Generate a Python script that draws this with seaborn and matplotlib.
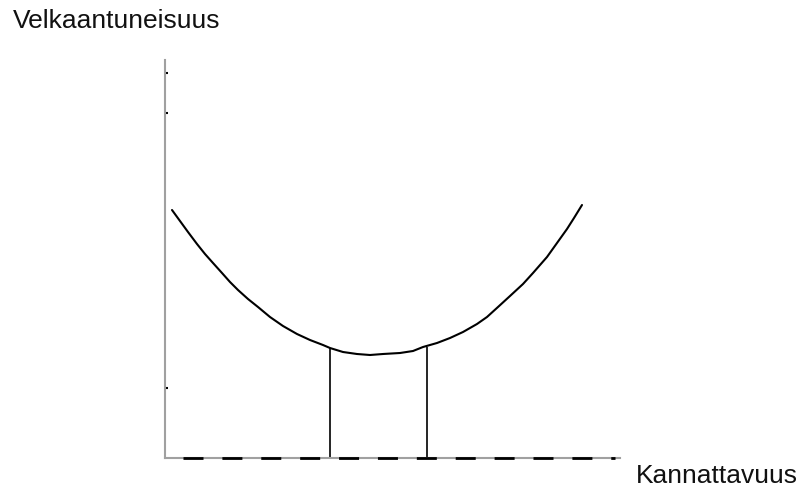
import matplotlib
matplotlib.use("Agg")
import matplotlib.pyplot as plt
import seaborn as sns
import pandas as pd

# curve (x: kannattavuus, y: velkaantuneisuus)
curve_x = [7, 15, 23, 32, 40, 48, 57, 65, 73, 83, 93, 105, 118, 132, 145, 158, 165, 178, 192,
           205, 218, 235, 248, 258, 272, 285, 298, 312, 322, 333, 345, 358, 368, 382, 392, 402,
           409, 417]
curve_y = [248, 237, 226, 214, 204, 195, 185, 176, 168, 159, 151, 141, 132, 124, 118, 113, 110,
           106, 104, 103, 104, 105, 107, 111, 115, 120, 126, 134, 141, 151, 162, 174, 185, 201,
           215, 229, 240, 253]

# the two vertical markers under the curve
marker_x = [165, 262]
marker_top = [110, 111]

# dashed baseline
base_x = [18, 450]
base_y = [0, 0]

# small ticks on the y axis
ytick_pos = [70, 345, 385]

sns.set_theme(style="white")
plt.rcParams["font.family"] = ["Liberation Sans", "DejaVu Sans"]

fig = plt.figure(figsize=(8.02, 4.88), dpi=100)
ax = fig.add_axes([165 / 802, 1 - 458 / 488, 455 / 802, 398 / 488])

df = pd.DataFrame({"x": curve_x, "y": curve_y})
sns.lineplot(data=df, x="x", y="y", color="black", linewidth=1.5, ax=ax,
             solid_joinstyle="round", solid_capstyle="round")

ax.vlines(marker_x, 0, marker_top, color="black", linewidth=1.2)
ax.plot(base_x, base_y, color="black", linewidth=2, linestyle=(0, (7.2, 6.8)),
        zorder=5, clip_on=False)

ax.set_xlim(0, 455)
ax.set_ylim(0, 398)
ax.set_xlabel("")
ax.set_ylabel("")
ax.set_xticks([])
ax.set_yticks(ytick_pos)
ax.set_yticklabels([])
ax.tick_params(axis="y", direction="in", length=2, width=1.5, color="black", left=True)

for side in ["top", "right"]:
    ax.spines[side].set_visible(False)
for side in ["left", "bottom"]:
    ax.spines[side].set_color("#a0a0a0")
    ax.spines[side].set_linewidth(1.5)

fig.text(13 / 802, 1 - 21 / 488, "Velkaantuneisuus", fontsize=19,
         ha="left", va="center", color="#111111")
fig.text(798 / 802, 1 - 476 / 488, "Kannattavuus", fontsize=19,
         ha="right", va="center", color="#111111")

fig.savefig("out.png", dpi=100)
plt.close(fig)
